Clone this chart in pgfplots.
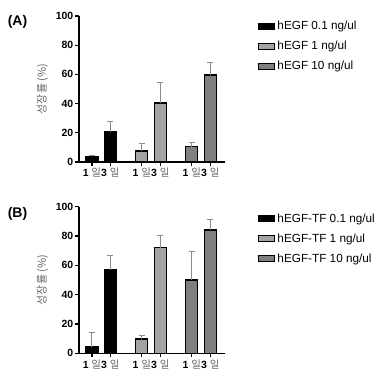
\documentclass[border=0pt]{standalone}
\usepackage{fontspec}
\setmainfont{Liberation Sans}
\newfontfamily\kr{Noto Sans CJK KR}
\usepackage{pgfplots}
\pgfplotsset{compat=1.18}
\definecolor{lg}{HTML}{A3A3A3}
\definecolor{mg}{HTML}{7F7F7F}
\definecolor{eb}{HTML}{8C8C8C}
\newcommand\il[1]{\textbf{#1} {\color{black!60}\kr 일}}
\pgfplotsset{
 myaxis/.style={
  scale only axis, width=146bp, height=146bp,
  anchor=south west, clip=false,
  axis lines=left, axis line style={line width=1.2pt,-},
  xmin=-0.7, xmax=7.2, ymin=0, ymax=100,
  ytick={0,20,...,100},
  xtick={0,1,2.7,3.7,5.4,6.4},
  xticklabels={\il{1},\il{3},\il{1},\il{3},\il{1},\il{3}},
  tick style={line width=1.2pt, black},
  tick align=outside, major tick length=4bp,
  /pgf/number format/assume math mode=true,
  yticklabel style={font=\bfseries\fontsize{10.5}{12}\selectfont, inner sep=1.5bp},
  xticklabel style={font=\fontsize{10.5}{12}\selectfont, inner sep=2bp},
  ylabel={\color{black!60}\kr 성장률 (\%)},
  ylabel style={at={(axis description cs:-0.25,0.5)}, anchor=center, font=\fontsize{11}{12}\selectfont},
  ybar, bar width=0.65,
  every axis plot/.append style={bar shift=0pt, draw=black, line width=1.3pt,
    error bars/y dir=plus, error bars/y explicit,
    error bars/error bar style={eb, line width=0.9pt},
    error bars/error mark options={rotate=90, mark size=3bp, eb, line width=0.9pt}},
  legend cell align=left,
  legend style={draw=none, fill=none, inner sep=0pt, font=\fontsize{11.8}{13}\selectfont,
    row sep=6bp, /tikz/every even column/.style={column sep=6bp}},
  legend image code/.code={\draw[##1, line width=1.3pt] (0bp,-3bp) rectangle (16bp,3bp);},
 }
}
\begin{document}
\begin{tikzpicture}[x=1bp,y=1bp]
\useasboundingbox (0,0) rectangle (385,380);
\node[font=\bfseries\fontsize{14}{16}\selectfont] at (17.5,358) {(A)};
\node[font=\bfseries\fontsize{14}{16}\selectfont] at (17.5,166) {(B)};
\begin{axis}[myaxis, at={(79bp,218bp)},
  legend style={at={(axis description cs:1.226,0.978)}, anchor=north west}]
\addplot[fill=black] coordinates {(0,4) +- (0,0.8) (1,20.5) +- (0,7.5)};
\addplot[fill=lg] coordinates {(2.7,7.5) +- (0,5) (3.7,40.5) +- (0,14)};
\addplot[fill=mg] coordinates {(5.4,10.5) +- (0,3) (6.4,59.5) +- (0,8.5)};
\legend{hEGF 0.1 ng/ul, hEGF 1 ng/ul, hEGF 10 ng/ul}
\end{axis}
\begin{axis}[myaxis, at={(79bp,26.7bp)}, height=146.6bp,
  legend style={at={(axis description cs:1.226,0.968)}, anchor=north west}]
\addplot[fill=black] coordinates {(0,4.6) +- (0,9.5) (1,57) +- (0,9.8)};
\addplot[fill=lg] coordinates {(2.7,9.8) +- (0,2.5) (3.7,72) +- (0,8.5)};
\addplot[fill=mg] coordinates {(5.4,50) +- (0,19.8) (6.4,84.1) +- (0,7.5)};
\legend{hEGF-TF 0.1 ng/ul, hEGF-TF 1 ng/ul, hEGF-TF 10 ng/ul}
\end{axis}
\end{tikzpicture}
\end{document}
